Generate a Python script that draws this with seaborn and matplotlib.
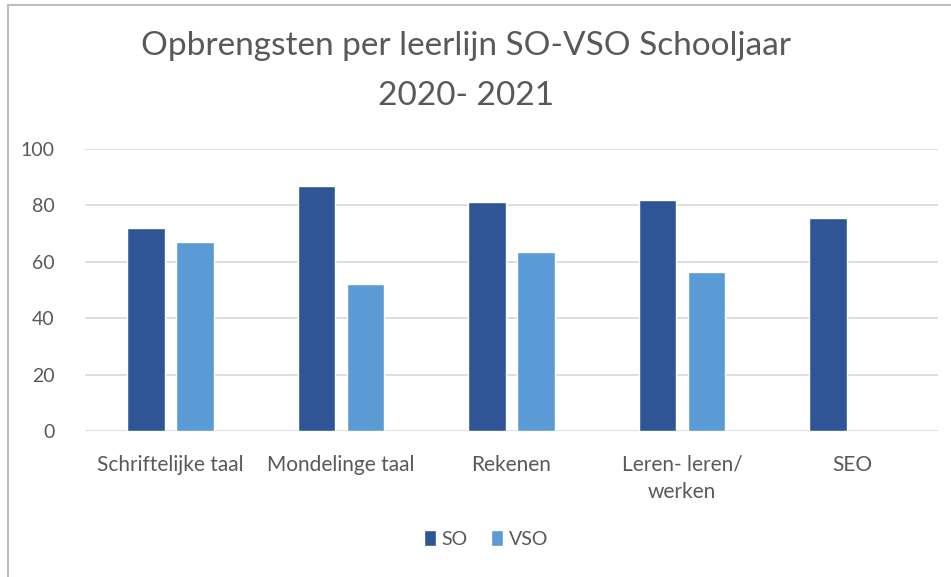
import numpy as np
import pandas as pd
import matplotlib.pyplot as plt
import seaborn as sns
from matplotlib.patches import Rectangle

# Data.
categories = ['Schriftelijke taal', 'Mondelinge taal', 'Rekenen', 'Leren- leren/\nwerken', 'SEO']
so_values = [72, 87, 81, 82, 75.5]
vso_values = [67, 52, 63.5, 56.5, np.nan]  # SEO has no VSO score.
series = ['SO', 'VSO']
colors = ['#2F5597', '#5B9BD5']
title = 'Opbrengsten per leerlijn SO-VSO Schooljaar\n2020- 2021'

df = pd.DataFrame({
    'leerlijn': categories * 2,
    'groep': ['SO'] * len(categories) + ['VSO'] * len(categories),
    'score': so_values + vso_values,
})

sns.set_style('white')
plt.rcParams['font.family'] = ['Lato', 'DejaVu Sans']
text_col = '#595959'

fig = plt.figure(figsize=(9.51, 5.77), dpi=100)
ax = fig.add_axes([0.0894, 0.253, 0.8969, 0.489])

sns.barplot(data=df, x='leerlijn', y='score', hue='groep', hue_order=series,
            palette=colors, order=categories, width=0.574, gap=0.234,
            saturation=1, errorbar=None, ax=ax, legend=True)

ax.set_ylim(0, 100)
ax.set_yticks(range(0, 101, 20))
ax.set_xlim(-0.5, len(categories) - 0.5)
ax.grid(axis='y', color='#D9D9D9', lw=1.2)
ax.set_axisbelow(True)
for s in ax.spines.values():
    s.set_visible(False)
ax.tick_params(axis='y', length=0, labelsize=14, colors=text_col, pad=22)
ax.tick_params(axis='x', length=0, labelsize=15, colors=text_col, pad=17)
for lbl in ax.get_xticklabels():
    lbl.set_linespacing(1.45)
ax.set_xlabel('')
ax.set_ylabel('')

ax.legend(loc='upper center', bbox_to_anchor=(0.47, -0.29), ncol=2, frameon=False,
          fontsize=14, labelcolor=text_col, handlelength=0.6, handleheight=0.9,
          handletextpad=0.3, columnspacing=1.2)

fig.text(0.49, 0.947, title, ha='center', va='top', fontsize=24, color=text_col,
         linespacing=1.85)

# Chart border like the spreadsheet frame.
fig.patches.append(Rectangle((8 / 951, -0.1), 1.2, 1.1 - 5 / 577, transform=fig.transFigure,
                             fill=False, edgecolor='#BFBFBF', lw=1.5))

fig.savefig('out.png', dpi=100)
